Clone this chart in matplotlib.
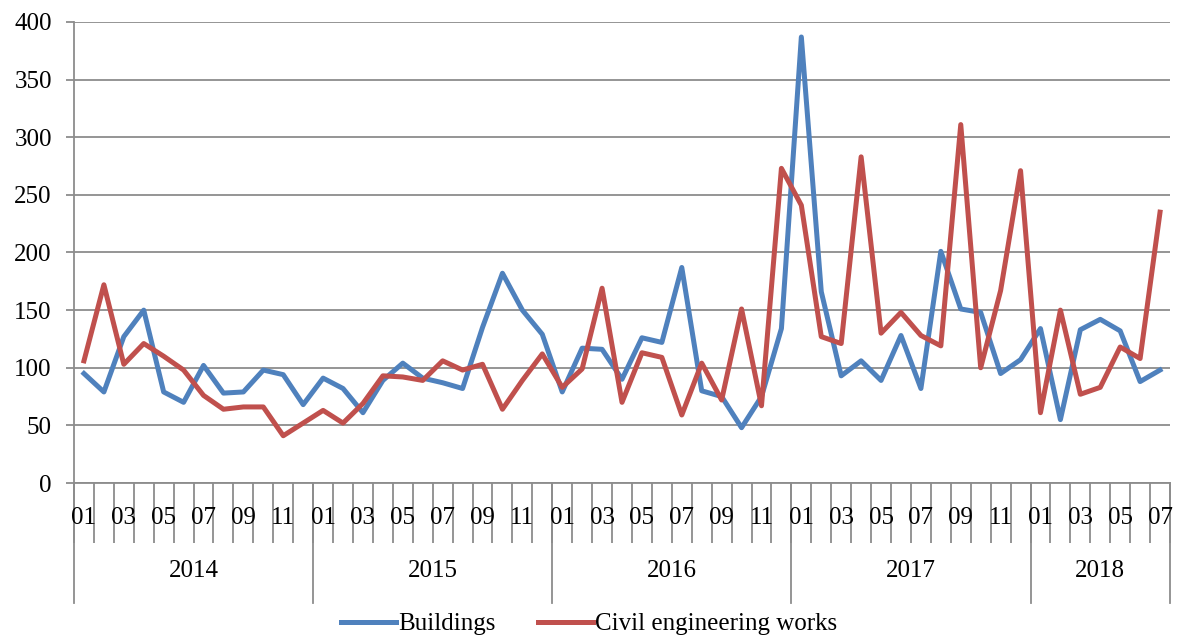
import numpy as np
import matplotlib as mpl
import matplotlib.pyplot as plt

mpl.use('Agg')
plt.rcParams['font.family'] = ['Liberation Serif', 'DejaVu Serif']

years = ['2014', '2015', '2016', '2017', '2018']
months_per_year = [12, 12, 12, 12, 7]

buildings = [95, 79, 127, 150, 79, 70, 102, 78, 79, 98, 94, 68,
             91, 82, 61, 89, 104, 91, 87, 82, 135, 182, 150, 129,
             79, 117, 116, 90, 126, 122, 187, 80, 75, 48, 75, 134,
             387, 166, 93, 106, 89, 128, 82, 201, 151, 148, 95, 107,
             134, 55, 133, 142, 132, 88, 98]
civil = [106, 172, 103, 121, 110, 98, 76, 64, 66, 66, 41, 52,
         63, 52, 69, 93, 92, 89, 106, 98, 103, 64, 89, 112,
         83, 99, 169, 70, 113, 109, 59, 104, 72, 151, 67, 273,
         241, 127, 121, 283, 130, 148, 128, 119, 311, 100, 167, 271,
         61, 150, 77, 83, 118, 108, 235]

blue = '#4F81BD'
red = '#C0504D'
grid_col = '#8C8C8C'
fs = 18

fig = plt.figure(figsize=(11.78, 6.39), dpi=100)
ax = fig.add_axes([74 / 1178, 1 - 483 / 639, 1096 / 1178, 461 / 639])

x = np.arange(len(buildings))
ax.plot(x, buildings, color=blue, lw=3.6, label='Buildings', solid_joinstyle='round')
ax.plot(x, civil, color=red, lw=3.6, label='Civil engineering works', solid_joinstyle='round')

ax.set_xlim(-0.5, len(buildings) - 0.5)
ax.set_ylim(0, 400)
ax.set_yticks(np.arange(0, 401, 50))
ax.yaxis.grid(True, color=grid_col, lw=1.3)
ax.set_axisbelow(True)
for s in ['top', 'right']:
    ax.spines[s].set_visible(False)
for s in ['left', 'bottom']:
    ax.spines[s].set_color(grid_col)
    ax.spines[s].set_linewidth(1.3)
ax.tick_params(axis='y', direction='out', length=6, color=grid_col, width=1.3,
               labelsize=fs, pad=10)

# month boundary ticks
ax.set_xticks(np.arange(-0.5, len(buildings), 1.0))
ax.set_xticklabels([])
ax.tick_params(axis='x', direction='out', length=43, color=grid_col, width=1.3)

trans = ax.get_xaxis_transform()
# month labels (odd months)
i = 0
for y, n in zip(years, months_per_year):
    for m in range(1, n + 1):
        if m % 2 == 1:
            ax.text(i, -0.077, '%02d' % m, transform=trans, ha='center', va='center',
                    fontsize=fs)
        i += 1

# year boundaries and labels
start = 0
for y, n in zip(years, months_per_year):
    ax.plot([start - 0.5, start - 0.5], [0, -0.26], transform=trans, color=grid_col,
            lw=1.3, clip_on=False)
    ax.text(start + (n - 1) / 2, -0.19, y, transform=trans, ha='center', va='center',
            fontsize=fs)
    start += n
ax.plot([start - 0.5, start - 0.5], [0, -0.26], transform=trans, color=grid_col,
        lw=1.3, clip_on=False)

fig.legend(loc='center', bbox_to_anchor=(0.5, 1 - 624 / 639), ncol=2, frameon=False,
           fontsize=fs, handlelength=2.2, handletextpad=0.1, columnspacing=1.7)

fig.savefig('out.png', dpi=100)
